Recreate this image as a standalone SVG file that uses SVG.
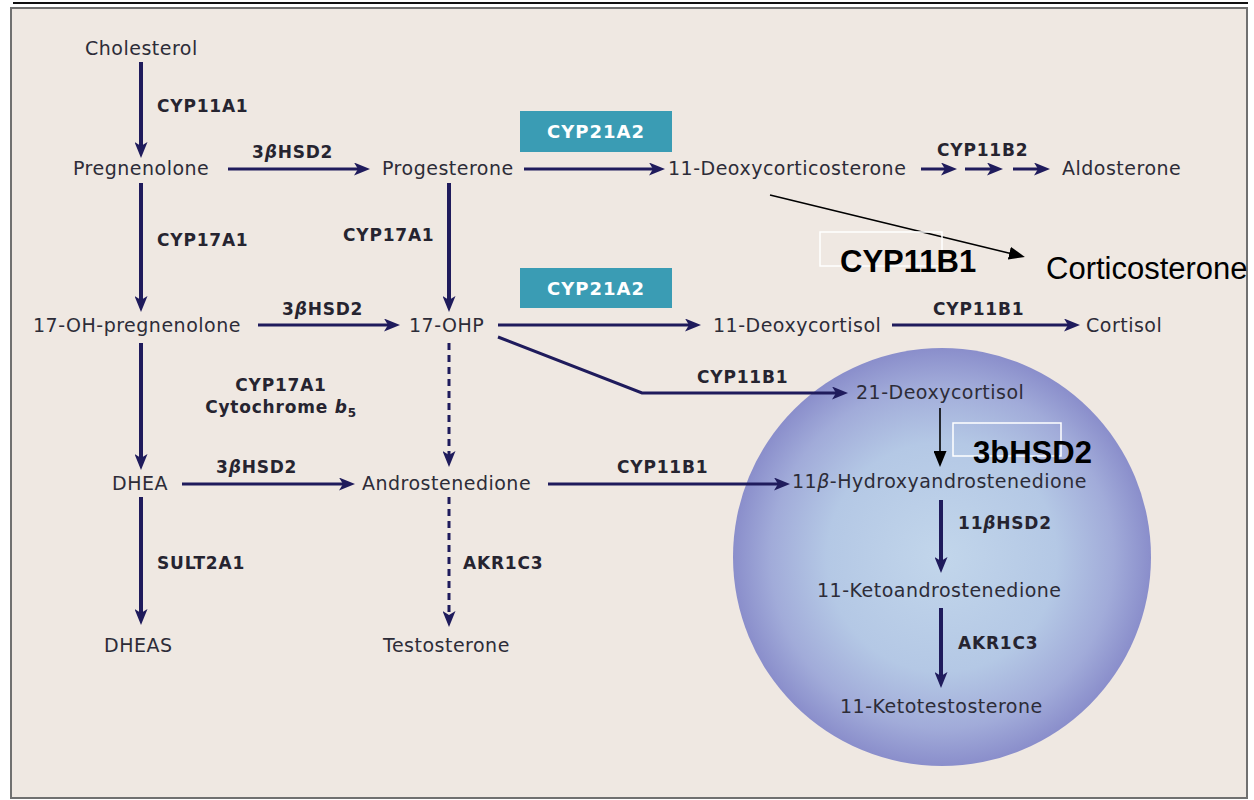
<svg xmlns="http://www.w3.org/2000/svg" width="1254" height="800" viewBox="0 0 1254 800">
<style>
.t{font-family:"DejaVu Sans",sans-serif;font-size:19px;fill:#2d2c38;letter-spacing:0.5px}
.b{font-family:"DejaVu Sans",sans-serif;font-weight:bold;font-size:17px;fill:#262430;letter-spacing:0.8px}
.bw{font-family:"DejaVu Sans",sans-serif;font-weight:bold;font-size:18px;fill:#ffffff;letter-spacing:1px}
.big{font-family:"Liberation Sans",Arial,sans-serif;font-size:31px;fill:#000000}
.c{fill:none;stroke:#1f1b5c;stroke-width:3}
.v{stroke-width:4}
.d{stroke-dasharray:7 5}
.k{fill:none;stroke:#000000;stroke-width:1.6}
.box{fill:#3a9cb4}
.wr{fill:none;stroke:#ffffff;stroke-width:1.5}
</style>
<defs>
<marker id="ah" viewBox="0 0 16 13" markerWidth="16" markerHeight="13" markerUnits="userSpaceOnUse" refX="7" refY="6.5" orient="auto">
<path d="M0,0 L16,6.5 L0,13 L4,6.5 Z" fill="#1f1b5c"/>
</marker>
<marker id="bk" viewBox="0 0 16 13" markerWidth="16" markerHeight="13" markerUnits="userSpaceOnUse" refX="12" refY="6.5" orient="auto">
<path d="M0,0 L16,6.5 L0,13 Z" fill="#000000"/>
</marker>
<radialGradient id="cg" cx="50%" cy="50%" r="50%">
<stop offset="0" stop-color="#c2d6eb"/>
<stop offset="0.55" stop-color="#b4c8e5"/>
<stop offset="0.82" stop-color="#a1abd9"/>
<stop offset="1" stop-color="#8a8ecb"/>
</radialGradient>
</defs>

<line x1="13" y1="3" x2="1248" y2="3" stroke="#111111" stroke-width="2"/>
<rect x="11" y="8" width="1236" height="790" fill="#efe8e2" stroke="#707070" stroke-width="2"/>
<circle cx="942" cy="557" r="209" fill="url(#cg)"/>

<g id="connectors">
<path class="c v" d="M141,62 V149" marker-end="url(#ah)"/>
<path class="c" d="M228,169 H361" marker-end="url(#ah)"/>
<path class="c" d="M524,169 H656" marker-end="url(#ah)"/>
<path class="c" d="M921,169 H948" marker-end="url(#ah)"/>
<path class="c" d="M965,169 H994" marker-end="url(#ah)"/>
<path class="c" d="M1013,169 H1041" marker-end="url(#ah)"/>
<path class="c v" d="M141,183 V303" marker-end="url(#ah)"/>
<path class="c v" d="M449,183 V303" marker-end="url(#ah)"/>
<path class="c" d="M258,325 H391" marker-end="url(#ah)"/>
<path class="c" d="M498,325 H692" marker-end="url(#ah)"/>
<path class="c" d="M892,325 H1071" marker-end="url(#ah)"/>
<path class="c" d="M498,337 L642,393 H839" marker-end="url(#ah)"/>
<path class="c d" d="M449,343 V458" marker-end="url(#ah)"/>
<path class="c v" d="M141,343 V461" marker-end="url(#ah)"/>
<path class="c" d="M182,484 H346" marker-end="url(#ah)"/>
<path class="c" d="M548,484 H781" marker-end="url(#ah)"/>
<path class="c v" d="M141,497 V616" marker-end="url(#ah)"/>
<path class="c d" d="M449,497 V618" marker-end="url(#ah)"/>
<path class="c v" d="M941,500 V564" marker-end="url(#ah)"/>
<path class="c v" d="M941,608 V679" marker-end="url(#ah)"/>
<path class="k" d="M770,195 L1021,256" marker-end="url(#bk)"/>
<path class="k" d="M940,408 V463" marker-end="url(#bk)"/>
</g>

<g id="cholesterol"><text class="t" x="85" y="55">Cholesterol</text></g>
<g id="pregnenolone"><text class="t" x="73" y="175">Pregnenolone</text></g>
<g id="progesterone"><text class="t" x="382" y="175">Progesterone</text></g>
<g id="deoxycorticosterone"><text class="t" x="668" y="175">11-Deoxycorticosterone</text></g>
<g id="aldosterone"><text class="t" x="1062" y="175">Aldosterone</text></g>
<g id="oh-pregnenolone"><text class="t" x="33" y="332">17-OH-pregnenolone</text></g>
<g id="ohp"><text class="t" x="409" y="332">17-OHP</text></g>
<g id="deoxycortisol"><text class="t" x="713" y="332">11-Deoxycortisol</text></g>
<g id="cortisol"><text class="t" x="1086" y="332">Cortisol</text></g>
<g id="deoxycortisol21"><text class="t" x="856" y="399">21-Deoxycortisol</text></g>
<g id="dhea"><text class="t" x="112" y="490">DHEA</text></g>
<g id="androstenedione"><text class="t" x="362" y="490">Androstenedione</text></g>
<g id="hydroxyandrostenedione"><text class="t" x="792" y="488">11<tspan font-style="italic">β</tspan>-Hydroxyandrostenedione</text></g>
<g id="dheas"><text class="t" x="104" y="652">DHEAS</text></g>
<g id="testosterone"><text class="t" x="383" y="652">Testosterone</text></g>
<g id="ketoandrostenedione"><text class="t" x="817" y="597">11-Ketoandrostenedione</text></g>
<g id="ketotestosterone"><text class="t" x="840" y="713">11-Ketotestosterone</text></g>
<g id="corticosterone"><text class="big" x="1046" y="279">Corticosterone</text></g>

<g id="enzyme-labels">
<text class="b" x="157" y="112">CYP11A1</text>
<text class="b" x="252" y="158">3<tspan font-style="italic">β</tspan>HSD2</text>
<text class="b" x="937" y="156">CYP11B2</text>
<text class="b" x="157" y="246">CYP17A1</text>
<text class="b" x="343" y="241">CYP17A1</text>
<text class="b" x="282" y="315">3<tspan font-style="italic">β</tspan>HSD2</text>
<text class="b" x="933" y="315">CYP11B1</text>
<text class="b" x="697" y="383">CYP11B1</text>
<text class="b" x="281" y="391" text-anchor="middle">CYP17A1</text>
<text class="b" x="281" y="413" text-anchor="middle">Cytochrome <tspan font-style="italic">b</tspan><tspan font-size="12" dy="4">5</tspan></text>
<text class="b" x="216" y="473">3<tspan font-style="italic">β</tspan>HSD2</text>
<text class="b" x="617" y="473">CYP11B1</text>
<text class="b" x="157" y="569">SULT2A1</text>
<text class="b" x="463" y="569">AKR1C3</text>
<text class="b" x="958" y="529">11<tspan font-style="italic">β</tspan>HSD2</text>
<text class="b" x="958" y="649">AKR1C3</text>
</g>

<g id="cyp21a2-top">
<rect class="box" x="520" y="111" width="152" height="41"/>
<text class="bw" x="596" y="138" text-anchor="middle">CYP21A2</text>
</g>
<g id="cyp21a2-mid">
<rect class="box" x="520" y="268" width="152" height="40"/>
<text class="bw" x="596" y="295" text-anchor="middle">CYP21A2</text>
</g>

<g id="cyp11b1-note">
<rect class="wr" x="820" y="232" width="122" height="34"/>
<text class="big" x="840" y="272" font-weight="bold">CYP11B1</text>
</g>
<g id="hsd-note">
<rect class="wr" x="953" y="423" width="108" height="33"/>
<text class="big" x="973" y="463" font-weight="bold">3bHSD2</text>
</g>
</svg>
